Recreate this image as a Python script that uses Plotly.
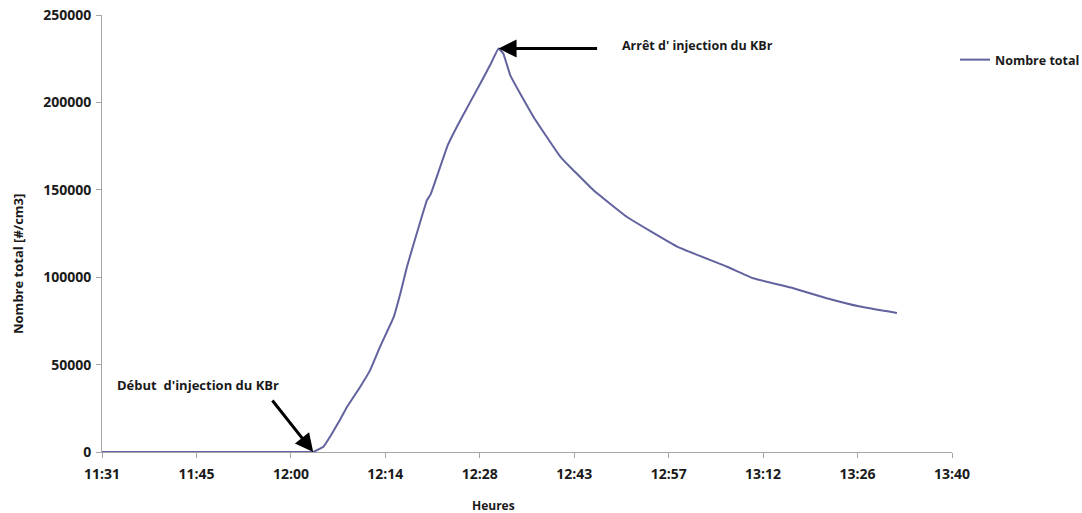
import plotly.graph_objects as go

# ---- data ----
times = ["11:31:12", "11:45:00", "12:00:00", "12:02:00", "12:03:24", "12:05:00",
         "12:06:00", "12:07:30", "12:08:36",
         "12:10:36", "12:12:06", "12:13:36", "12:15:42", "12:16:42", "12:17:42",
         "12:19:12", "12:20:45", "12:21:19", "12:23:57", "12:25:50", "12:28:53",
         "12:30:24", "12:31:40", "12:32:23", "12:33:27", "12:37:00", "12:41:06",
         "12:46:06", "12:51:12", "12:58:54", "13:06:30", "13:10:30", "13:16:36",
         "13:21:42", "13:26:48", "13:32:24"]
nombre_total = [0, 0, 0, 0, 0, 3200,
                8900, 18500, 26000,
                37500, 47000, 60300, 77500, 90800, 106000,
                125100, 144100, 147500, 175800, 189800, 210800,
                221500, 230800, 228000, 215500, 191700, 168900,
                149900, 134600, 117500, 106000, 99400, 93700,
                88000, 83200, 79500]

tick_labels = ["11:31", "11:45", "12:00", "12:14", "12:28", "12:43",
               "12:57", "13:12", "13:26", "13:40"]
y_ticks = [0, 50000, 100000, 150000, 200000, 250000]


def to_min(s):
    h, m, sec = (int(v) for v in s.split(":"))
    return h * 60 + m + sec / 60.0


x_min = [to_min(t) for t in times]
tick_vals = [0.48 * 1440 + 14.4 * k for k in range(len(tick_labels))]
i_start = times.index("12:03:24")
i_peak = nombre_total.index(max(nombre_total))

FONT = "Open Sans"
TXT = "#1a1a1a"

L, R, T, B = 102, 952, 15, 452
PW, PH = R - L, B - T

fig = go.Figure()
fig.add_trace(go.Scatter(x=x_min, y=nombre_total, mode="lines",
                         name="Nombre total",
                         line=dict(color="#62629f", width=2,
                                   shape="spline", smoothing=0.3)))

axis_common = dict(showgrid=False, zeroline=False, showline=True,
                   linecolor="#a6a6a6", linewidth=1, ticks="outside",
                   ticklen=5, tickcolor="#a6a6a6",
                   tickfont=dict(family=FONT, size=14, color=TXT, weight="bold"))

fig.update_xaxes(range=[tick_vals[0], tick_vals[-1]], tickmode="array",
                 tickvals=tick_vals, ticktext=tick_labels, ticklabelstandoff=4,
                 **axis_common)
fig.update_yaxes(range=[0, 250000], tickmode="array", tickvals=y_ticks,
                 ticktext=[str(v) for v in y_ticks], ticklabelstandoff=2,
                 **axis_common)


def px(x):
    return (x - L) / PW


def py(y):
    return (B - y) / PH


annots = [
    dict(text="Heures", xref="paper", yref="paper", x=px(493), y=py(505),
         showarrow=False, font=dict(family=FONT, size=12, color=TXT, weight="bold"),
         xanchor="center", yanchor="middle"),
    dict(text="Nombre total [#/cm3]", xref="paper", yref="paper", x=px(18),
         y=py(264), textangle=-90, showarrow=False,
         font=dict(family=FONT, size=13, color=TXT, weight="bold"),
         xanchor="center", yanchor="middle"),
    dict(text="Début  d'injection du KBr", xref="paper", yref="paper",
         x=px(198), y=py(385), showarrow=False,
         font=dict(family=FONT, size=13, color=TXT, weight="bold"),
         xanchor="center", yanchor="middle"),
    dict(text="Arrêt d' injection du KBr", xref="paper", yref="paper",
         x=px(697), y=py(45), showarrow=False,
         font=dict(family=FONT, size=12.5, color=TXT, weight="bold"),
         xanchor="center", yanchor="middle"),
    # arrows
    dict(text="", x=x_min[i_start], y=nombre_total[i_start], xref="x", yref="y",
         showarrow=True, ax=-42, ay=-53, axref="pixel", ayref="pixel",
         arrowhead=2, arrowsize=1.2, arrowwidth=3, arrowcolor="#000000"),
    dict(text="", x=x_min[i_peak], y=nombre_total[i_peak], xref="x", yref="y",
         showarrow=True, ax=100, ay=0, axref="pixel", ayref="pixel",
         arrowhead=2, arrowsize=1.2, arrowwidth=3, arrowcolor="#000000"),
]

fig.update_layout(
    width=1082, height=513,
    margin=dict(l=L, r=1082 - R, t=T, b=513 - B, pad=0, autoexpand=False),
    paper_bgcolor="white", plot_bgcolor="white",
    showlegend=True,
    legend=dict(x=px(955), y=py(60), xanchor="left", yanchor="middle",
                font=dict(family=FONT, size=12.5, color=TXT, weight="bold"),
                bgcolor="rgba(0,0,0,0)", borderwidth=0),
    annotations=annots,
)

fig.write_html("out.html",
               config={"displayModeBar": False},
               post_script="document.body.style.margin='0';"
                           "document.body.style.overflow='hidden';")
